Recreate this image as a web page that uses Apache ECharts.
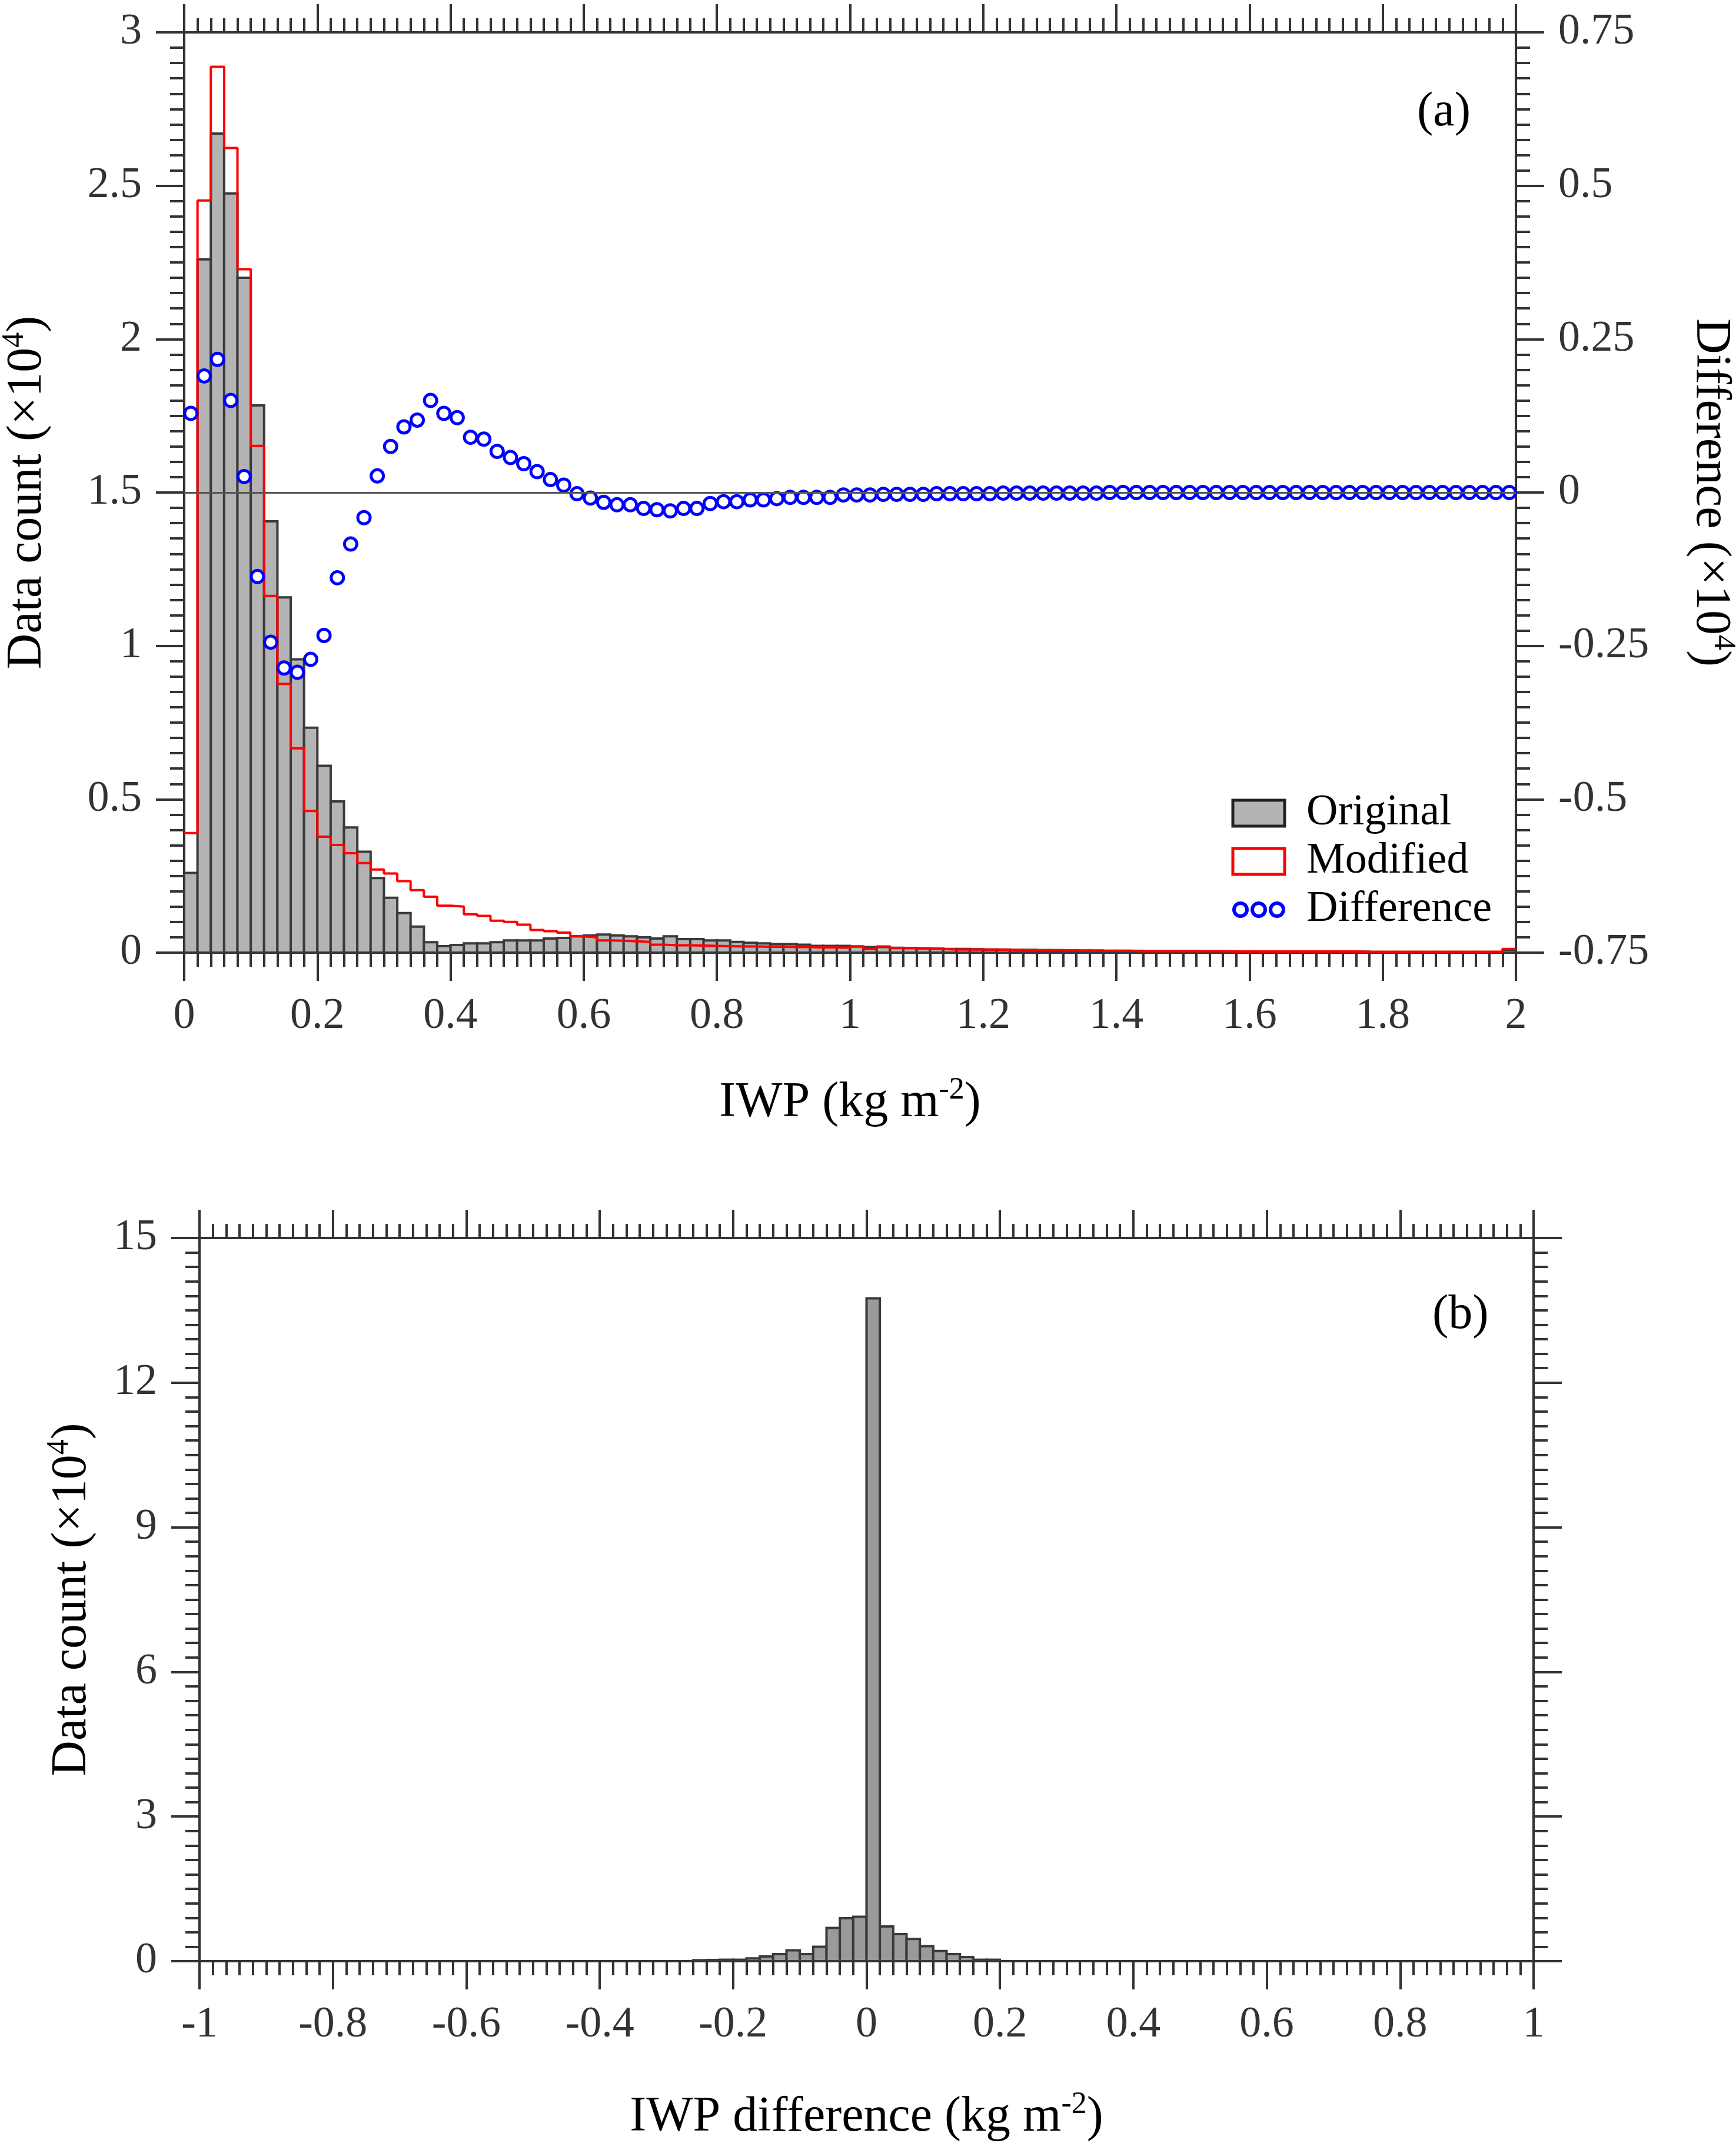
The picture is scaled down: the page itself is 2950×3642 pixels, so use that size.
<!DOCTYPE html>
<html>
<head>
<meta charset="utf-8">
<title>IWP histograms</title>
<script src="https://cdn.jsdelivr.net/npm/echarts@6/dist/echarts.min.js"></script>
<style>
  html, body { margin: 0; padding: 0; background: #fff; }
  #chart { width: 2950px; height: 3642px; }
</style>
</head>
<body>
<div id="chart"></div>
<script>
// 直方图的箱宽
var binWidth = 0.02;

// (a) 原始 IWP 分布 (×10^4)，每箱 0.02，0 ~ 2
var iwpOriginal = [
    0.26, 2.26, 2.67, 2.475, 2.20, 1.784, 1.406, 1.158, 0.956, 0.733,
    0.609, 0.493, 0.408, 0.329, 0.243, 0.179, 0.129, 0.085, 0.034, 0.021,
    0.025, 0.030, 0.030, 0.034, 0.040, 0.040, 0.040, 0.046, 0.048, 0.053,
    0.056, 0.059, 0.056, 0.053, 0.050, 0.046, 0.053, 0.044, 0.044, 0.040,
    0.040, 0.035, 0.032, 0.030, 0.028, 0.028, 0.026, 0.022, 0.022, 0.022,
    0.020, 0.018, 0.018, 0.016, 0.015, 0.014, 0.013, 0.012, 0.012, 0.011,
    0.010, 0.010, 0.009, 0.009, 0.008, 0.008, 0.007, 0.007, 0.007, 0.006,
    0.006, 0.006, 0.005, 0.005, 0.005, 0.005, 0.004, 0.004, 0.004, 0.004,
    0.004, 0.003, 0.003, 0.003, 0.003, 0.003, 0.003, 0.003, 0.003, 0.002,
    0.002, 0.002, 0.002, 0.002, 0.002, 0.002, 0.002, 0.002, 0.002, 0.009
];

// (a) 修改后的分布
var iwpModified = [
    0.39, 2.452, 2.888, 2.623, 2.228, 1.652, 1.163, 0.876, 0.666, 0.462,
    0.378, 0.351, 0.324, 0.292, 0.271, 0.258, 0.233, 0.204, 0.182, 0.153,
    0.150, 0.125, 0.120, 0.104, 0.100, 0.091, 0.074, 0.070, 0.065, 0.053,
    0.050, 0.040, 0.039, 0.037, 0.035, 0.026, 0.024, 0.024, 0.023, 0.022,
    0.021, 0.020, 0.020, 0.019, 0.019, 0.018, 0.018, 0.017, 0.017, 0.016,
    0.020, 0.012, 0.020, 0.015, 0.015, 0.014, 0.012, 0.010, 0.010, 0.010,
    0.010, 0.009, 0.008, 0.008, 0.008, 0.007, 0.007, 0.006, 0.006, 0.006,
    0.006, 0.005, 0.005, 0.005, 0.005, 0.005, 0.005, 0.005, 0.004, 0.004,
    0.004, 0.004, 0.004, 0.004, 0.004, 0.004, 0.004, 0.004, 0.003, 0.003,
    0.003, 0.003, 0.003, 0.003, 0.003, 0.003, 0.003, 0.003, 0.003, 0.012
];

// (a) 差值 (右轴)，画在箱中心
var iwpDifference = [
    0.129, 0.190, 0.217, 0.150, 0.026, -0.137, -0.244, -0.286, -0.293, -0.272,
    -0.233, -0.139, -0.084, -0.041, 0.027, 0.075, 0.107, 0.118, 0.150, 0.129,
    0.122, 0.090, 0.087, 0.067, 0.057, 0.047, 0.034, 0.021, 0.012, -0.002,
    -0.009, -0.016, -0.020, -0.020, -0.026, -0.028, -0.030, -0.026, -0.026, -0.018,
    -0.015, -0.015, -0.012, -0.012, -0.010, -0.008, -0.008, -0.008, -0.008, -0.004,
    -0.004, -0.004, -0.003, -0.003, -0.003, -0.003, -0.002, -0.002, -0.002, -0.002,
    -0.002, -0.001, -0.001, -0.001, -0.001, -0.001, -0.001, -0.001, -0.001, 0,
    0, 0, 0, 0, 0, 0, 0, 0, 0, 0,
    0, 0, 0, 0, 0, 0, 0, 0, 0, 0,
    0, 0, 0, 0, 0, 0, 0, 0, 0, 0
];

// (b) IWP 差值分布，从 -0.26 开始的箱
var diffStart = -0.26;
var diffCounts = [
    0.02, 0.025, 0.03, 0.03, 0.057, 0.097, 0.145, 0.227, 0.145, 0.30,
    0.69, 0.89, 0.92, 13.75, 0.72, 0.56, 0.46, 0.31, 0.21, 0.145,
    0.085, 0.03, 0.03
];

var FONT = '"Liberation Serif", "Times New Roman", serif';
var AXIS_COLOR = '#333';

var histA = [], stepA = [], diffA = [], histB = [];
for (var i = 0; i < iwpOriginal.length; i++) {
    var lo = +(i * binWidth).toFixed(2);
    var hi = +((i + 1) * binWidth).toFixed(2);
    histA.push([lo, hi, iwpOriginal[i]]);
    stepA.push([lo, iwpModified[i]]);
    diffA.push([+(lo + binWidth / 2).toFixed(3), iwpDifference[i]]);
}
stepA.push([2, iwpModified[iwpModified.length - 1]]);
for (i = 0; i < diffCounts.length; i++) {
    var b0 = +(diffStart + i * binWidth).toFixed(2);
    histB.push([b0, +(b0 + binWidth).toFixed(2), diffCounts[i]]);
}

function histRender(fill) {
    return function (params, api) {
        var p0 = api.coord([api.value(0), api.value(2)]);
        var p1 = api.coord([api.value(1), 0]);
        return {
            type: 'rect',
            shape: { x: p0[0], y: p0[1], width: p1[0] - p0[0], height: p1[1] - p0[1] },
            style: { fill: fill, stroke: '#3a3a3a', lineWidth: 4 }
        };
    };
}

function valueAxis(opt) {
    var base = {
        type: 'value',
        splitLine: { show: false },
        axisLine: { show: true, onZero: false, lineStyle: { color: AXIS_COLOR, width: 4 } },
        axisTick: { show: true, inside: false, length: 48, lineStyle: { color: AXIS_COLOR, width: 4 } },
        minorTick: { show: true, splitNumber: 10, length: 24, lineStyle: { color: AXIS_COLOR, width: 4 } },
        minorSplitLine: { show: false },
        axisLabel: { show: true, margin: 72, fontFamily: FONT, fontSize: 74, color: '#333' },
        nameTextStyle: {
            fontFamily: FONT, fontSize: 84, color: '#000', lineHeight: 96,
            rich: { sup: { fontFamily: FONT, fontSize: 52, lineHeight: 52, verticalAlign: 'top', color: '#000' } }
        }
    };
    for (var k in opt) base[k] = opt[k];
    return base;
}

var chart = echarts.init(document.getElementById('chart'));

var option = {
    animation: false,
    backgroundColor: '#fff',
    title: [
        { text: '(a)', left: 2408, top: 150, padding: 0,
          textStyle: { fontFamily: FONT, fontSize: 82, fontWeight: 'normal', color: '#000' } },
        { text: '(b)', left: 2434, top: 2194, padding: 0,
          textStyle: { fontFamily: FONT, fontSize: 82, fontWeight: 'normal', color: '#000' } }
    ],
    legend: {
        left: 2092, top: 1345, orient: 'vertical', padding: 0,
        itemWidth: 88, itemHeight: 44, itemGap: 8,
        selectedMode: false,
        textStyle: { fontFamily: FONT, fontSize: 74, color: '#000', padding: [0, 0, 0, 32] },
        data: [
            { name: 'Original', icon: 'rect', itemStyle: { color: '#b4b4b4', borderColor: '#222', borderWidth: 5 } },
            { name: 'Modified', icon: 'rect', itemStyle: { color: '#fff', borderColor: '#ff0000', borderWidth: 5 } },
            { name: 'Difference',
              icon: 'path://M0,0M88,44M24,22A11,11,0,1,1,2,22A11,11,0,1,1,24,22ZM55,22A11,11,0,1,1,33,22A11,11,0,1,1,55,22ZM86,22A11,11,0,1,1,64,22A11,11,0,1,1,86,22Z',
              itemStyle: { color: 'transparent', borderColor: '#0000ff', borderWidth: 6 } }
        ]
    },
    grid: [
        { left: 313, right: 374, top: 55, bottom: 2023, outerBoundsMode: 'none', containLabel: false },
        { left: 339, right: 344, top: 2104, bottom: 309, outerBoundsMode: 'none', containLabel: false }
    ],
    xAxis: [
        valueAxis({ gridIndex: 0, position: 'bottom', min: 0, max: 2, interval: 0.2,
            name: 'IWP (kg m{sup|-2})', nameLocation: 'middle', nameGap: 208 }),
        valueAxis({ gridIndex: 0, position: 'top', min: 0, max: 2, interval: 0.2,
            axisLabel: { show: false } }),
        valueAxis({ gridIndex: 1, position: 'bottom', min: -1, max: 1, interval: 0.2,
            name: 'IWP difference (kg m{sup|-2})', nameLocation: 'middle', nameGap: 218 }),
        valueAxis({ gridIndex: 1, position: 'top', min: -1, max: 1, interval: 0.2,
            axisLabel: { show: false } })
    ],
    yAxis: [
        valueAxis({ gridIndex: 0, position: 'left', min: 0, max: 3, interval: 0.5,
            name: 'Data count (×10{sup|4})', nameLocation: 'middle', nameRotate: 90, nameGap: 218 }),
        valueAxis({ gridIndex: 0, position: 'right', min: -0.75, max: 0.75, interval: 0.25,
            name: 'Difference (×10{sup|4})', nameLocation: 'middle', nameRotate: -90, nameGap: 282 }),
        valueAxis({ gridIndex: 1, position: 'left', min: 0, max: 15, interval: 3,
            name: 'Data count (×10{sup|4})', nameLocation: 'middle', nameRotate: 90, nameGap: 168 }),
        valueAxis({ gridIndex: 1, position: 'right', min: 0, max: 15, interval: 3,
            axisLabel: { show: false } })
    ],
    series: [
        {
            name: 'Original',
            type: 'custom',
            xAxisIndex: 0, yAxisIndex: 0,
            renderItem: histRender('#b4b4b4'),
            encode: { x: [0, 1], y: 2 },
            data: histA,
            clip: true,
            z: 1
        },
        {
            name: 'Modified',
            type: 'line',
            xAxisIndex: 0, yAxisIndex: 0,
            step: 'end',
            symbol: 'none',
            lineStyle: { color: '#ff0000', width: 4 },
            itemStyle: { color: '#ff0000' },
            data: stepA,
            z: 3
        },
        {
            name: 'Difference',
            type: 'scatter',
            xAxisIndex: 0, yAxisIndex: 1,
            symbol: 'circle',
            symbolSize: 21,
            itemStyle: { color: '#fff', borderColor: '#0000ff', borderWidth: 5, opacity: 1 },
            data: diffA,
            z: 4,
            markLine: {
                silent: true,
                symbol: ['none', 'none'],
                label: { show: false },
                lineStyle: { color: '#555', width: 3, type: 'solid' },
                data: [{ yAxis: 0 }]
            }
        },
        {
            name: 'IWP difference',
            type: 'custom',
            xAxisIndex: 2, yAxisIndex: 2,
            renderItem: histRender('#9a9a9a'),
            encode: { x: [0, 1], y: 2 },
            data: histB,
            clip: true,
            z: 1
        }
    ]
};

chart.setOption(option);
</script>
</body>
</html>
